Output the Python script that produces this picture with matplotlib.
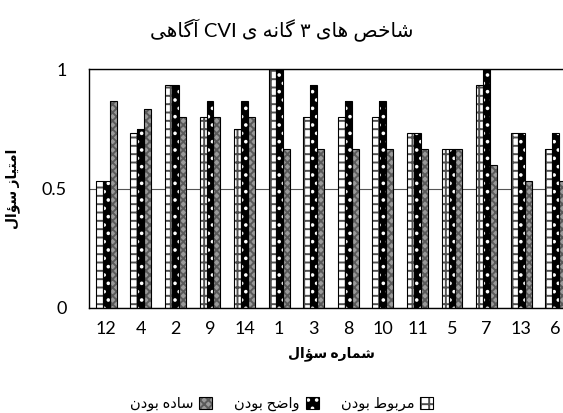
import matplotlib
matplotlib.use('Agg')
import matplotlib.pyplot as plt
from matplotlib.patches import Patch
import numpy as np

questions = ['12', '4', '2', '9', '14', '1', '3', '8', '10', '11', '5', '7', '13', '6']
relevance = [0.533, 0.733, 0.933, 0.8, 0.75, 1.0, 0.8, 0.8, 0.8, 0.733, 0.667, 0.933, 0.733, 0.667]
clarity = [0.533, 0.75, 0.933, 0.867, 0.867, 1.0, 0.933, 0.867, 0.867, 0.733, 0.667, 1.0, 0.733, 0.733]
simplicity = [0.867, 0.833, 0.8, 0.8, 0.8, 0.667, 0.667, 0.667, 0.667, 0.667, 0.667, 0.6, 0.533, 0.533]

title = 'شاخص های ۳ گانه ی CVI آگاهی'
ylabel = 'امتیاز سؤال'
xlabel = 'شماره سؤال'
series_names = ['مربوط بودن', 'واضح بودن', 'ساده بودن']

# matplotlib does no arabic shaping, so pick presentation forms by hand
# (isolated, final, initial, medial)
FORMS = {
    '\u0622': ('\uFE81', '\uFE82', None, None),
    '\u0627': ('\uFE8D', '\uFE8E', None, None),
    '\u0624': ('\uFE85', '\uFE86', None, None),
    '\u062F': ('\uFEA9', '\uFEAA', None, None),
    '\u0631': ('\uFEAD', '\uFEAE', None, None),
    '\u0632': ('\uFEAF', '\uFEB0', None, None),
    '\u0648': ('\uFEED', '\uFEEE', None, None),
    '\u0628': ('\uFE8F', '\uFE90', '\uFE91', '\uFE92'),
    '\u062A': ('\uFE95', '\uFE96', '\uFE97', '\uFE98'),
    '\u062D': ('\uFEA1', '\uFEA2', '\uFEA3', '\uFEA4'),
    '\u062E': ('\uFEA5', '\uFEA6', '\uFEA7', '\uFEA8'),
    '\u0633': ('\uFEB1', '\uFEB2', '\uFEB3', '\uFEB4'),
    '\u0634': ('\uFEB5', '\uFEB6', '\uFEB7', '\uFEB8'),
    '\u0635': ('\uFEB9', '\uFEBA', '\uFEBB', '\uFEBC'),
    '\u0636': ('\uFEBD', '\uFEBE', '\uFEBF', '\uFEC0'),
    '\u0637': ('\uFEC1', '\uFEC2', '\uFEC3', '\uFEC4'),
    '\u0644': ('\uFEDD', '\uFEDE', '\uFEDF', '\uFEE0'),
    '\u0645': ('\uFEE1', '\uFEE2', '\uFEE3', '\uFEE4'),
    '\u0646': ('\uFEE5', '\uFEE6', '\uFEE7', '\uFEE8'),
    '\u0647': ('\uFEE9', '\uFEEA', '\uFEEB', '\uFEEC'),
    '\u06CC': ('\uFBFC', '\uFBFD', '\uFBFE', '\uFBFF'),
    '\u06AF': ('\uFB92', '\uFB93', '\uFB94', '\uFB95'),
}


def shape(word):
    out = []
    for i, ch in enumerate(word):
        if ch not in FORMS:
            out.append(ch)
            continue
        iso, fin, ini, med = FORMS[ch]
        prev = word[i - 1] if i > 0 else None
        nxt = word[i + 1] if i < len(word) - 1 else None
        jp = prev in FORMS and FORMS[prev][2] is not None
        jn = nxt in FORMS and ini is not None
        if jp and jn:
            out.append(med)
        elif jp:
            out.append(fin)
        elif jn:
            out.append(ini)
        else:
            out.append(iso)
    return ''.join(out)


def rtl(text):
    res = []
    for w in reversed(text.split(' ')):
        if any(c in FORMS for c in w):
            res.append(shape(w)[::-1])
        else:
            res.append(w)
    return ' '.join(res)


plt.rcParams['font.family'] = ['Lato', 'DejaVu Sans']
plt.rcParams['hatch.linewidth'] = 1.4

fig = plt.figure(figsize=(5.63, 4.13), dpi=100)
ax = fig.add_axes([89 / 563, 105 / 413, 484 / 563, 239 / 413])

x = np.arange(len(questions))
w = 0.2
styles = [
    dict(face='white', hatch='++', hcol='#505050'),
    dict(face='black', hatch='..', hcol='white'),
    dict(face='#9a9a9a', hatch='xxxx', hcol='#5a5a5a'),
]
handles = []
for k, (vals, st) in enumerate(zip([relevance, clarity, simplicity], styles)):
    pos = x + (k - 1) * w
    ax.bar(pos, vals, w, color=st['face'], edgecolor=st['hcol'], hatch=st['hatch'], linewidth=0, zorder=2)
    ax.bar(pos, vals, w, fill=False, edgecolor='black', linewidth=0.8, zorder=3)
    handles.append((Patch(facecolor=st['face'], edgecolor=st['hcol'], hatch=st['hatch'], linewidth=0),
                    Patch(fill=False, edgecolor='black', linewidth=0.8)))

ax.set_xlim(-0.5, len(questions) - 0.5)
ax.set_ylim(0, 1)
ax.set_yticks([0, 0.5, 1])
ax.set_yticklabels(['0', '0.5', '1'])
ax.set_xticks(x)
ax.set_xticklabels(questions)
ax.tick_params(length=0, labelsize=13)
ax.tick_params(axis='y', pad=16)
ax.tick_params(axis='x', pad=9)
ax.yaxis.grid(True, color='#555555', linewidth=0.8, zorder=1)
ax.set_axisbelow(True)
for s in ax.spines.values():
    s.set_linewidth(1.0)

ax.set_ylabel(rtl(ylabel), fontsize=10, fontweight='bold')
ax.yaxis.set_label_coords(-0.143, 0.5)
ax.set_xlabel(rtl(xlabel), fontsize=10, fontweight='bold', labelpad=7)
fig.text(0.5, 0.925, rtl(title), ha='center', va='center', fontsize=14.5)

# legend reads right to left: first series on the right
order = [2, 1, 0]
fig.legend([handles[i] for i in order], [rtl(series_names[i]) for i in order],
           loc='center', bbox_to_anchor=(0.5, 0.022), ncol=3, frameon=False,
           markerfirst=False, handlelength=0.9, handleheight=0.9,
           handletextpad=0.4, columnspacing=1.5, fontsize=10.5)

fig.savefig('out.png', dpi=100)
